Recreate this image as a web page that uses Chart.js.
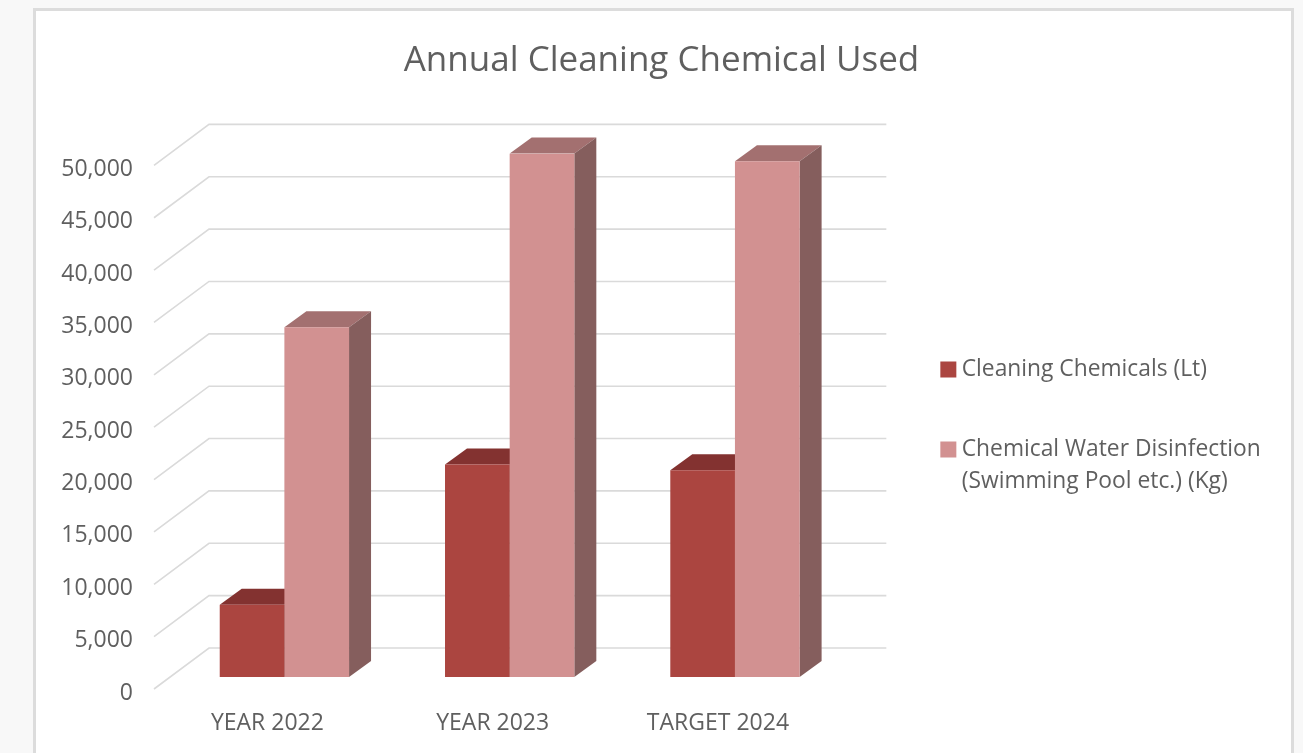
<!DOCTYPE html>
<html>
<head>
<meta charset="utf-8">
<title>Annual Cleaning Chemical Used</title>
<script src="https://cdn.jsdelivr.net/npm/chart.js@4"></script>
<style>
html,body{margin:0;padding:0;width:1303px;height:753px;overflow:hidden;background:#f8f8f8;}
#panel{position:absolute;left:33px;top:8px;width:1255px;height:760px;background:#fff;border:3px solid #dcdcdc;}
#c{position:absolute;left:34px;top:9px;}
</style>
</head>
<body>
<div id="panel"></div>
<canvas id="c" width="1255" height="744"></canvas>
<script>
const categories = ["YEAR 2022", "YEAR 2023", "TARGET 2024"];
const cleaningChemicals = [6900, 20300, 19750];
const waterDisinfection = [33400, 50000, 49240];
const seriesLabels = [["Cleaning Chemicals (Lt)"], ["Chemical Water Disinfection", "(Swimming Pool etc.) (Kg)"]];
const frontColors = ["#AB4540", "#D29191"];
const topColors = ["#833230", "#A37070"];
const sideColors = ["#6D3432", "#855E5D"];
const FONT = "'Open Sans', sans-serif";
const TEXT = "#5f5f5f";
const GRID = "#dadada";

const depth = {dx: 22, dy: 16};
const wall = {dx: 37.25, dxRight: 38.75, dy: 29, frontDx: 55, frontDy: 41};
const legendShift = {x: 50.75, y: 49};

const threeD = {
  id: "threeD",
  afterLayout(chart) {
    const l = chart.legend;
    l.left += legendShift.x; l.right += legendShift.x;
    l.top += legendShift.y; l.bottom += legendShift.y;
    chart.scales.y.left = 0;
  },
  beforeDatasetsDraw(chart) {
    const ctx = chart.ctx, y = chart.scales.y, a = chart.chartArea;
    ctx.save();
    ctx.strokeStyle = GRID;
    ctx.lineWidth = 1.6;
    y.ticks.forEach(t => {
      const py = y.getPixelForValue(t.value) - wall.dy;
      const bx = a.left + wall.dx;
      ctx.beginPath();
      ctx.moveTo(bx - wall.frontDx, py + wall.frontDy);
      ctx.lineTo(bx, py);
      ctx.lineTo(a.right + wall.dxRight, py);
      ctx.stroke();
    });
    chart.data.datasets.forEach((ds, i) => {
      chart.getDatasetMeta(i).data.forEach(bar => {
        const l = bar.x - bar.width / 2, r = bar.x + bar.width / 2;
        const t = bar.y, b = bar.base;
        ctx.fillStyle = topColors[i];
        ctx.beginPath();
        ctx.moveTo(l, t); ctx.lineTo(r, t);
        ctx.lineTo(r + depth.dx, t - depth.dy); ctx.lineTo(l + depth.dx, t - depth.dy);
        ctx.closePath(); ctx.fill();
        ctx.fillStyle = sideColors[i];
        ctx.beginPath();
        ctx.moveTo(r, t); ctx.lineTo(r + depth.dx, t - depth.dy);
        ctx.lineTo(r + depth.dx, b - depth.dy); ctx.lineTo(r, b);
        ctx.closePath(); ctx.fill();
      });
    });
    ctx.restore();
  }
};

new Chart(document.getElementById("c"), {
  type: "bar",
  data: {
    labels: categories,
    datasets: [
      {label: seriesLabels[0], data: cleaningChemicals, backgroundColor: frontColors[0], borderWidth: 0},
      {label: seriesLabels[1], data: waterDisinfection, backgroundColor: frontColors[1], borderWidth: 0}
    ]
  },
  options: {
    responsive: false,
    animation: false,
    layout: {padding: {left: 69, right: 69, top: 0, bottom: 0}},
    datasets: {bar: {categoryPercentage: 0.574, barPercentage: 1}},
    plugins: {
      tooltip: {enabled: false},
      title: {
        display: true,
        text: "Annual Cleaning Chemical Used",
        color: TEXT,
        font: {family: FONT, size: 35, weight: "normal"},
        padding: {top: 31, bottom: 71.4}
      },
      legend: {
        position: "right",
        maxWidth: 600,
        labels: {
          color: TEXT,
          font: {family: FONT, size: 22.8, lineHeight: 1.4},
          usePointStyle: true,
          pointStyle: "rect",
          boxWidth: 4,
          boxHeight: 16,
          padding: 48
        }
      }
    },
    scales: {
      x: {
        grid: {display: false},
        border: {display: false},
        afterFit(s) { s.height = 76; },
        ticks: {color: TEXT, font: {family: FONT, size: 23}, padding: 25, labelOffset: -17, maxRotation: 0}
      },
      y: {
        min: 0, max: 50000,
        grid: {display: false},
        border: {display: false},
        afterFit(s) { s.width = 68.75; },
        ticks: {
          stepSize: 5000,
          color: TEXT,
          font: {family: FONT, size: 23},
          padding: 30.75,
          labelOffset: 16,
          callback: v => v.toLocaleString("en-US")
        }
      }
    }
  },
  plugins: [threeD]
});
</script>
</body>
</html>
